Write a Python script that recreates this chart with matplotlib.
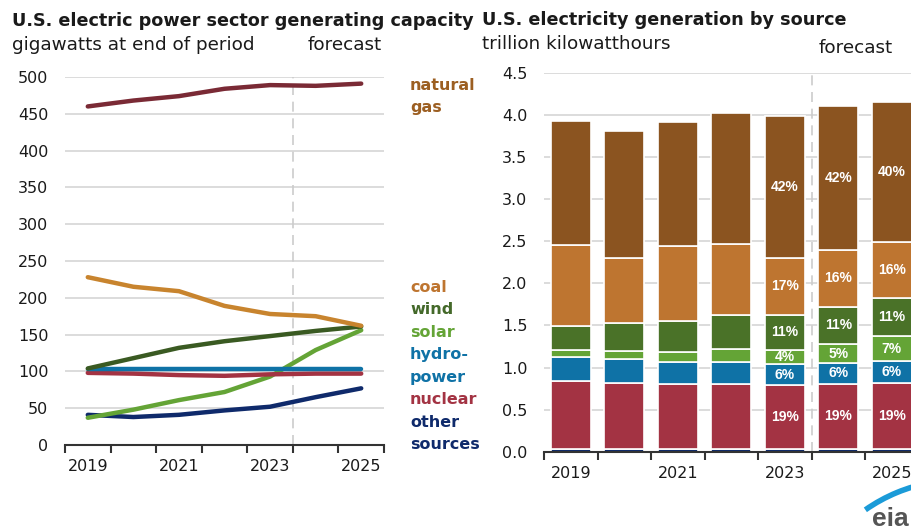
import numpy as np
import matplotlib.pyplot as plt
from matplotlib.patches import Arc
from matplotlib.transforms import IdentityTransform

plt.rcParams['font.family'] = ['DejaVu Sans']

# data
years = [2019, 2020, 2021, 2022, 2023, 2024, 2025]
year_labels = ['2019', '', '2021', '', '2023', '', '2025']

# capacity, gigawatts at end of period
cap_gas = [460, 468, 474, 484, 489, 488, 491]
cap_coal = [228, 215, 209, 189, 178, 175, 162]
cap_wind = [104, 118, 132, 141, 148, 155, 161]
cap_solar = [37, 48, 61, 72, 93, 129, 156]
cap_hydro = [103, 103, 103, 103, 103, 103, 103]
cap_nuclear = [98, 97, 95, 94, 96, 97, 97]
cap_other = [41, 38, 41, 47, 52, 65, 77]

# generation, trillion kWh
gen_other = [0.03, 0.03, 0.03, 0.03, 0.03, 0.03, 0.03]
gen_nuclear = [0.81, 0.79, 0.78, 0.77, 0.76, 0.78, 0.79]
gen_hydro = [0.29, 0.28, 0.25, 0.26, 0.25, 0.24, 0.26]
gen_solar = [0.08, 0.10, 0.12, 0.16, 0.17, 0.23, 0.29]
gen_wind = [0.28, 0.33, 0.37, 0.41, 0.42, 0.44, 0.46]
gen_coal = [0.97, 0.77, 0.89, 0.84, 0.67, 0.68, 0.66]
gen_gas = [1.47, 1.51, 1.48, 1.56, 1.69, 1.71, 1.67]

# share labels (only 2023-2025 are labelled)
pct_nuclear = ['', '', '', '', '19%', '19%', '19%']
pct_hydro = ['', '', '', '', '6%', '6%', '6%']
pct_solar = ['', '', '', '', '4%', '5%', '7%']
pct_wind = ['', '', '', '', '11%', '11%', '11%']
pct_coal = ['', '', '', '', '17%', '16%', '16%']
pct_gas = ['', '', '', '', '42%', '42%', '40%']

c_gas_line = '#7a2a35'
c_gas = '#8b5420'
c_gas_txt = '#9c5f22'
c_coal = '#be7530'
c_wind = '#44692a'
c_wind_bar = '#4a7228'
c_solar = '#64a436'
c_hydro = '#0f72a6'
c_nuclear = '#a33343'
c_other = '#0f2a6b'
grid_c = '#d9d9d9'
axis_c = '#333333'
txt_c = '#1a1a1a'

W, H = 911, 531
fig = plt.figure(figsize=(W / 100, H / 100), dpi=100)

x = np.arange(len(years))

# ---------- left: capacity lines ----------
ax1 = fig.add_axes([65 / W, (H - 445) / H, 319 / W, 368 / H])
ax1.set_xlim(-0.5, 6.5)
ax1.set_ylim(0, 500)
ax1.set_yticks(np.arange(0, 501, 50))
ax1.grid(axis='y', color=grid_c, lw=1.3)
ax1.set_axisbelow(True)
ax1.axvline(4.5, color='#cccccc', lw=1.2, ls=(0, (6, 4)), zorder=1)

lw = 3.2
ax1.plot(x, cap_other, color=c_other, lw=lw, solid_capstyle='round', zorder=3)
ax1.plot(x, cap_solar, color=c_solar, lw=lw, solid_capstyle='round', zorder=3)
ax1.plot(x, cap_nuclear, color=c_nuclear, lw=lw, solid_capstyle='round', zorder=3)
ax1.plot(x, cap_hydro, color=c_hydro, lw=lw, solid_capstyle='round', zorder=3)
ax1.plot(x, cap_wind, color='#3a5a22', lw=lw, solid_capstyle='round', zorder=3)
ax1.plot(x, cap_coal, color='#c8842e', lw=lw, solid_capstyle='round', zorder=3)
ax1.plot(x, cap_gas, color=c_gas_line, lw=lw, solid_capstyle='round', zorder=3)

# ---------- right: generation bars ----------
ax2 = fig.add_axes([544 / W, (H - 451.7) / H, 374.5 / W, 378.7 / H])
ax2.set_xlim(-0.5, 6.5)
ax2.set_ylim(0, 4.5)
ax2.set_yticks(np.arange(0, 4.51, 0.5))
ax2.set_yticklabels(['%.1f' % v for v in np.arange(0, 4.51, 0.5)])
ax2.grid(axis='y', color=grid_c, lw=1.3)
ax2.set_axisbelow(True)
ax2.axvline(4.5, color='#cccccc', lw=1.2, ls=(0, (6, 4)), zorder=1)

stack = [(gen_other, c_other, None), (gen_nuclear, c_nuclear, pct_nuclear),
         (gen_hydro, c_hydro, pct_hydro), (gen_solar, c_solar, pct_solar),
         (gen_wind, c_wind_bar, pct_wind), (gen_coal, c_coal, pct_coal),
         (gen_gas, c_gas, pct_gas)]
bottom = np.zeros(len(years))
for vals, col, labels in stack:
    vals = np.array(vals)
    ax2.bar(x, vals, bottom=bottom, width=0.74, color=col,
            edgecolor='white', lw=1.2, zorder=2)
    if labels:
        for xi, b, v, t in zip(x, bottom, vals, labels):
            if t:
                ax2.text(xi, b + v / 2, t, ha='center', va='center',
                         color='white', fontsize=10, fontweight='bold',
                         family='Liberation Sans', zorder=4)
    bottom += vals

for ax in (ax1, ax2):
    for s in ('top', 'right', 'left'):
        ax.spines[s].set_visible(False)
    ax.spines['bottom'].set_color(axis_c)
    ax.spines['bottom'].set_linewidth(1.5)
    ax.spines['bottom'].set_zorder(5)
    ax.set_xticks(x)
    ax.set_xticklabels(year_labels)
    ax.set_xticks(np.arange(-0.5, 7, 1), minor=True)
    ax.tick_params(axis='x', which='major', length=0, pad=10, labelsize=11.5,
                   colors=txt_c)
    ax.tick_params(axis='x', which='minor', length=6, width=1.5, color=axis_c,
                   direction='out')
    ax.tick_params(axis='y', length=0, pad=12, labelsize=11.5, colors=txt_c)

# ---------- titles and labels ----------
fig.text(12 / W, 1 - 26 / H, 'U.S. electric power sector generating capacity',
         fontsize=12.7, fontweight='bold', color=txt_c)
fig.text(12 / W, 1 - 50 / H, 'gigawatts at end of period', fontsize=13.2,
         color=txt_c)
fig.text(308 / W, 1 - 50 / H, 'forecast', fontsize=13.2, color=txt_c)
fig.text(482 / W, 1 - 25 / H, 'U.S. electricity generation by source',
         fontsize=12.7, fontweight='bold', color=txt_c)
fig.text(482 / W, 1 - 49 / H, 'trillion kilowatthours', fontsize=13.2,
         color=txt_c)
fig.text(819 / W, 1 - 53 / H, 'forecast', fontsize=13.2, color=txt_c)

legend_items = [('natural', c_gas_txt, 90), ('gas', c_gas_txt, 112),
                ('coal', c_coal, 292), ('wind', c_wind, 314),
                ('solar', c_solar, 337), ('hydro-', c_hydro, 359),
                ('power', c_hydro, 382), ('nuclear', c_nuclear, 404),
                ('other', c_other, 427), ('sources', c_other, 449)]
for t, col, yb in legend_items:
    fig.text(410 / W, 1 - yb / H, t, fontsize=11.5, fontweight='bold', color=col)

# eia logo
fig.text(909 / W, 1 - 526 / H, 'eia', fontsize=19, fontweight='bold',
         color='#555555', ha='right', va='baseline', family='Liberation Sans')
fig.add_artist(Arc((960, H - 645), 330, 330, theta1=100, theta2=125,
                   transform=IdentityTransform(), color='#1b9bd8', lw=4))

fig.savefig('out.png', dpi=100)
